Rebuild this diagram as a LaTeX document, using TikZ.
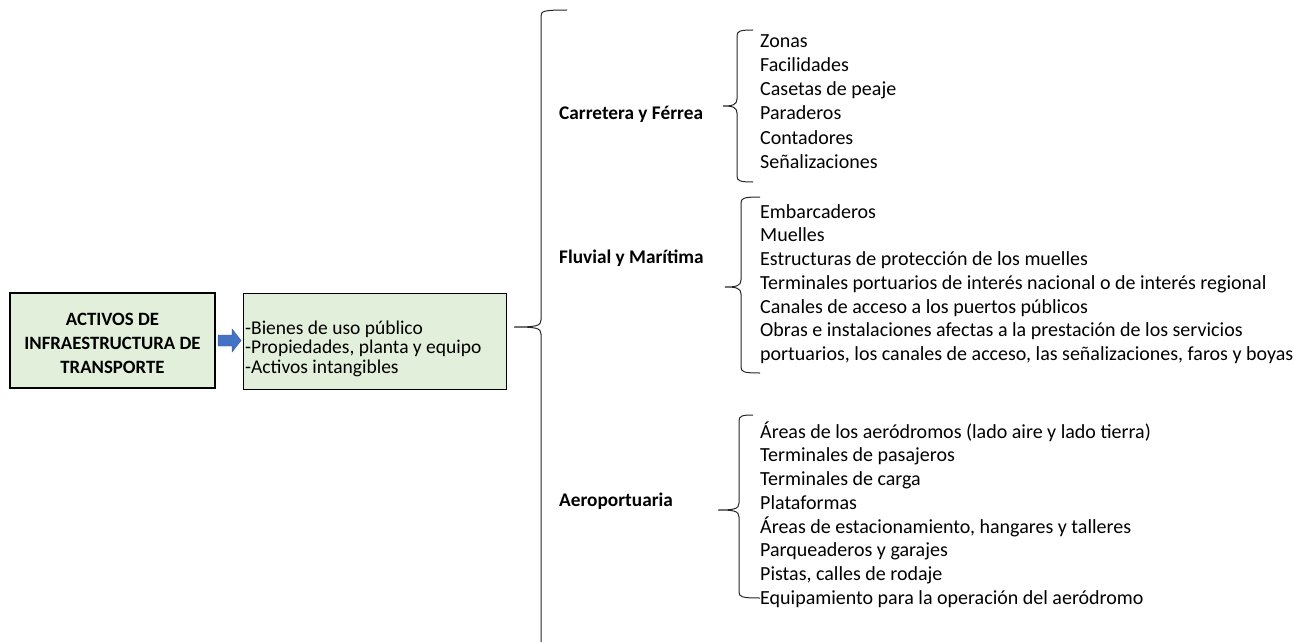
\documentclass[tikz,border=0pt]{standalone}
\usepackage{fontspec}
\setmainfont{Carlito}
\definecolor{boxgreen}{HTML}{E2EFDA}
\definecolor{arrowblue}{HTML}{4472C4}
\tikzset{
  item/.style={anchor=west, inner sep=0pt, text height=16pt, text depth=1.5pt, font=\fontsize{20}{24}\selectfont},
  cat/.style={anchor=west, inner sep=0pt, text height=14pt, text depth=1pt, font=\fontsize{19.3}{23}\selectfont\bfseries},
  brace/.style={draw=black!85, line width=1pt},
}
\newcommand{\mybrace}[7]{% xv, top, xrTop, tipx, tipy, bot, xrBot
  \draw[brace] (#3,#2) .. controls (#1+3,#2) and (#1,#2+1) .. (#1,#2+6)
    -- (#1,#5-7) .. controls (#1,#5-1) and (#1-5,#5) .. (#4,#5)
    .. controls (#1-5,#5) and (#1,#5+1) .. (#1,#5+7)
    -- (#1,#6-6) .. controls (#1,#6-1) and (#1+3,#6) .. (#7,#6);
}
\begin{document}
\begin{tikzpicture}[x=1pt,y=-1pt]
\useasboundingbox (0,0) rectangle (1294,642);
% box 1
\node[draw=black, line width=2.2pt, fill=boxgreen, minimum width=205pt, minimum height=95pt, inner sep=0pt] (main) at (112.5,340.5) {};
\node[align=center, inner sep=0pt, font=\fontsize{18.8}{24}\selectfont\bfseries] (maintxt) at (112.5,343.5)
  {ACTIVOS DE\\INFRAESTRUCTURA DE\\TRANSPORTE};
% box 2
\node[draw=black, line width=0.8pt, fill=boxgreen, minimum width=263pt, minimum height=96pt, inner sep=0pt] (types) at (374.5,341) {};
\node[item, font=\fontsize{19.5}{19.5}\selectfont] (t1) at (245,327) {-Bienes de uso público};
\node[item, font=\fontsize{19.5}{19.5}\selectfont] (t2) at (245,346.5) {-Propiedades, planta y equipo};
\node[item, font=\fontsize{19.5}{19.5}\selectfont] (t3) at (245,366) {-Activos intangibles};
% arrow
\coordinate (arrS) at (main.east);
\fill[arrowblue, draw=arrowblue!85!black, line width=0.4pt]
  ([xshift=2pt,yshift=-5.5pt]arrS) -- ([xshift=16pt,yshift=-5.5pt]arrS) -- ([xshift=16pt,yshift=-11.5pt]arrS)
  -- ([xshift=25pt,yshift=0pt]arrS) -- ([xshift=16pt,yshift=11.5pt]arrS) -- ([xshift=16pt,yshift=5.5pt]arrS)
  -- ([xshift=2pt,yshift=5.5pt]arrS) -- cycle;
% big brace
\draw[brace] (567,10) .. controls (544,10) and (541,11) .. (541,16)
  -- (541,320) .. controls (541,326) and (536,327) .. (514,327)
  .. controls (536,327) and (541,328) .. (541,334) -- (541,642);
% categories
\node[cat] (c1) at (559,113) {Carretera y Férrea};
\node[cat] (c2) at (559,257) {Fluvial y Marítima};
\node[cat] (c3) at (559,500) {Aeroportuaria};
% small braces
\mybrace{737}{30}{753}{723}{106}{182}{753}
\mybrace{741}{197}{760}{725}{287}{373}{760}
\mybrace{739}{415}{753}{718}{510}{598}{760}
% items carretera
\node[item] (a1) at (760,40) {Zonas};
\node[item] (a2) at (760,64.2) {Facilidades};
\node[item] (a3) at (760,88.4) {Casetas de peaje};
\node[item] (a4) at (760,112.6) {Paraderos};
\node[item] (a5) at (760,136.8) {Contadores};
\node[item] (a6) at (760,161) {Señalizaciones};
% items fluvial
\node[item] (b1) at (760,211) {Embarcaderos};
\node[item] (b2) at (760,234.7) {Muelles};
\node[item] (b3) at (760,258.4) {Estructuras de protección de los muelles};
\node[item] (b4) at (760,282.1) {Terminales portuarios de interés nacional o de interés regional};
\node[item] (b5) at (760,305.8) {Canales de acceso a los puertos públicos};
\node[item] (b6) at (760,329.5) {Obras e instalaciones afectas a la prestación de los servicios};
\node[item] (b7) at (760,353.2) {portuarios, los canales de acceso, las señalizaciones, faros y boyas};
% items aero
\node[item] (d1) at (760,431) {Áreas de los aeródromos (lado aire y lado tierra)};
\node[item] (d2) at (760,454.7) {Terminales de pasajeros};
\node[item] (d3) at (760,478.4) {Terminales de carga};
\node[item] (d4) at (760,502.1) {Plataformas};
\node[item] (d5) at (760,525.8) {Áreas de estacionamiento, hangares y talleres};
\node[item] (d6) at (760,549.5) {Parqueaderos y garajes};
\node[item] (d7) at (760,573.2) {Pistas, calles de rodaje};
\node[item] (d8) at (760,597) {Equipamiento para la operación del aeródromo};
\end{tikzpicture}
\end{document}
